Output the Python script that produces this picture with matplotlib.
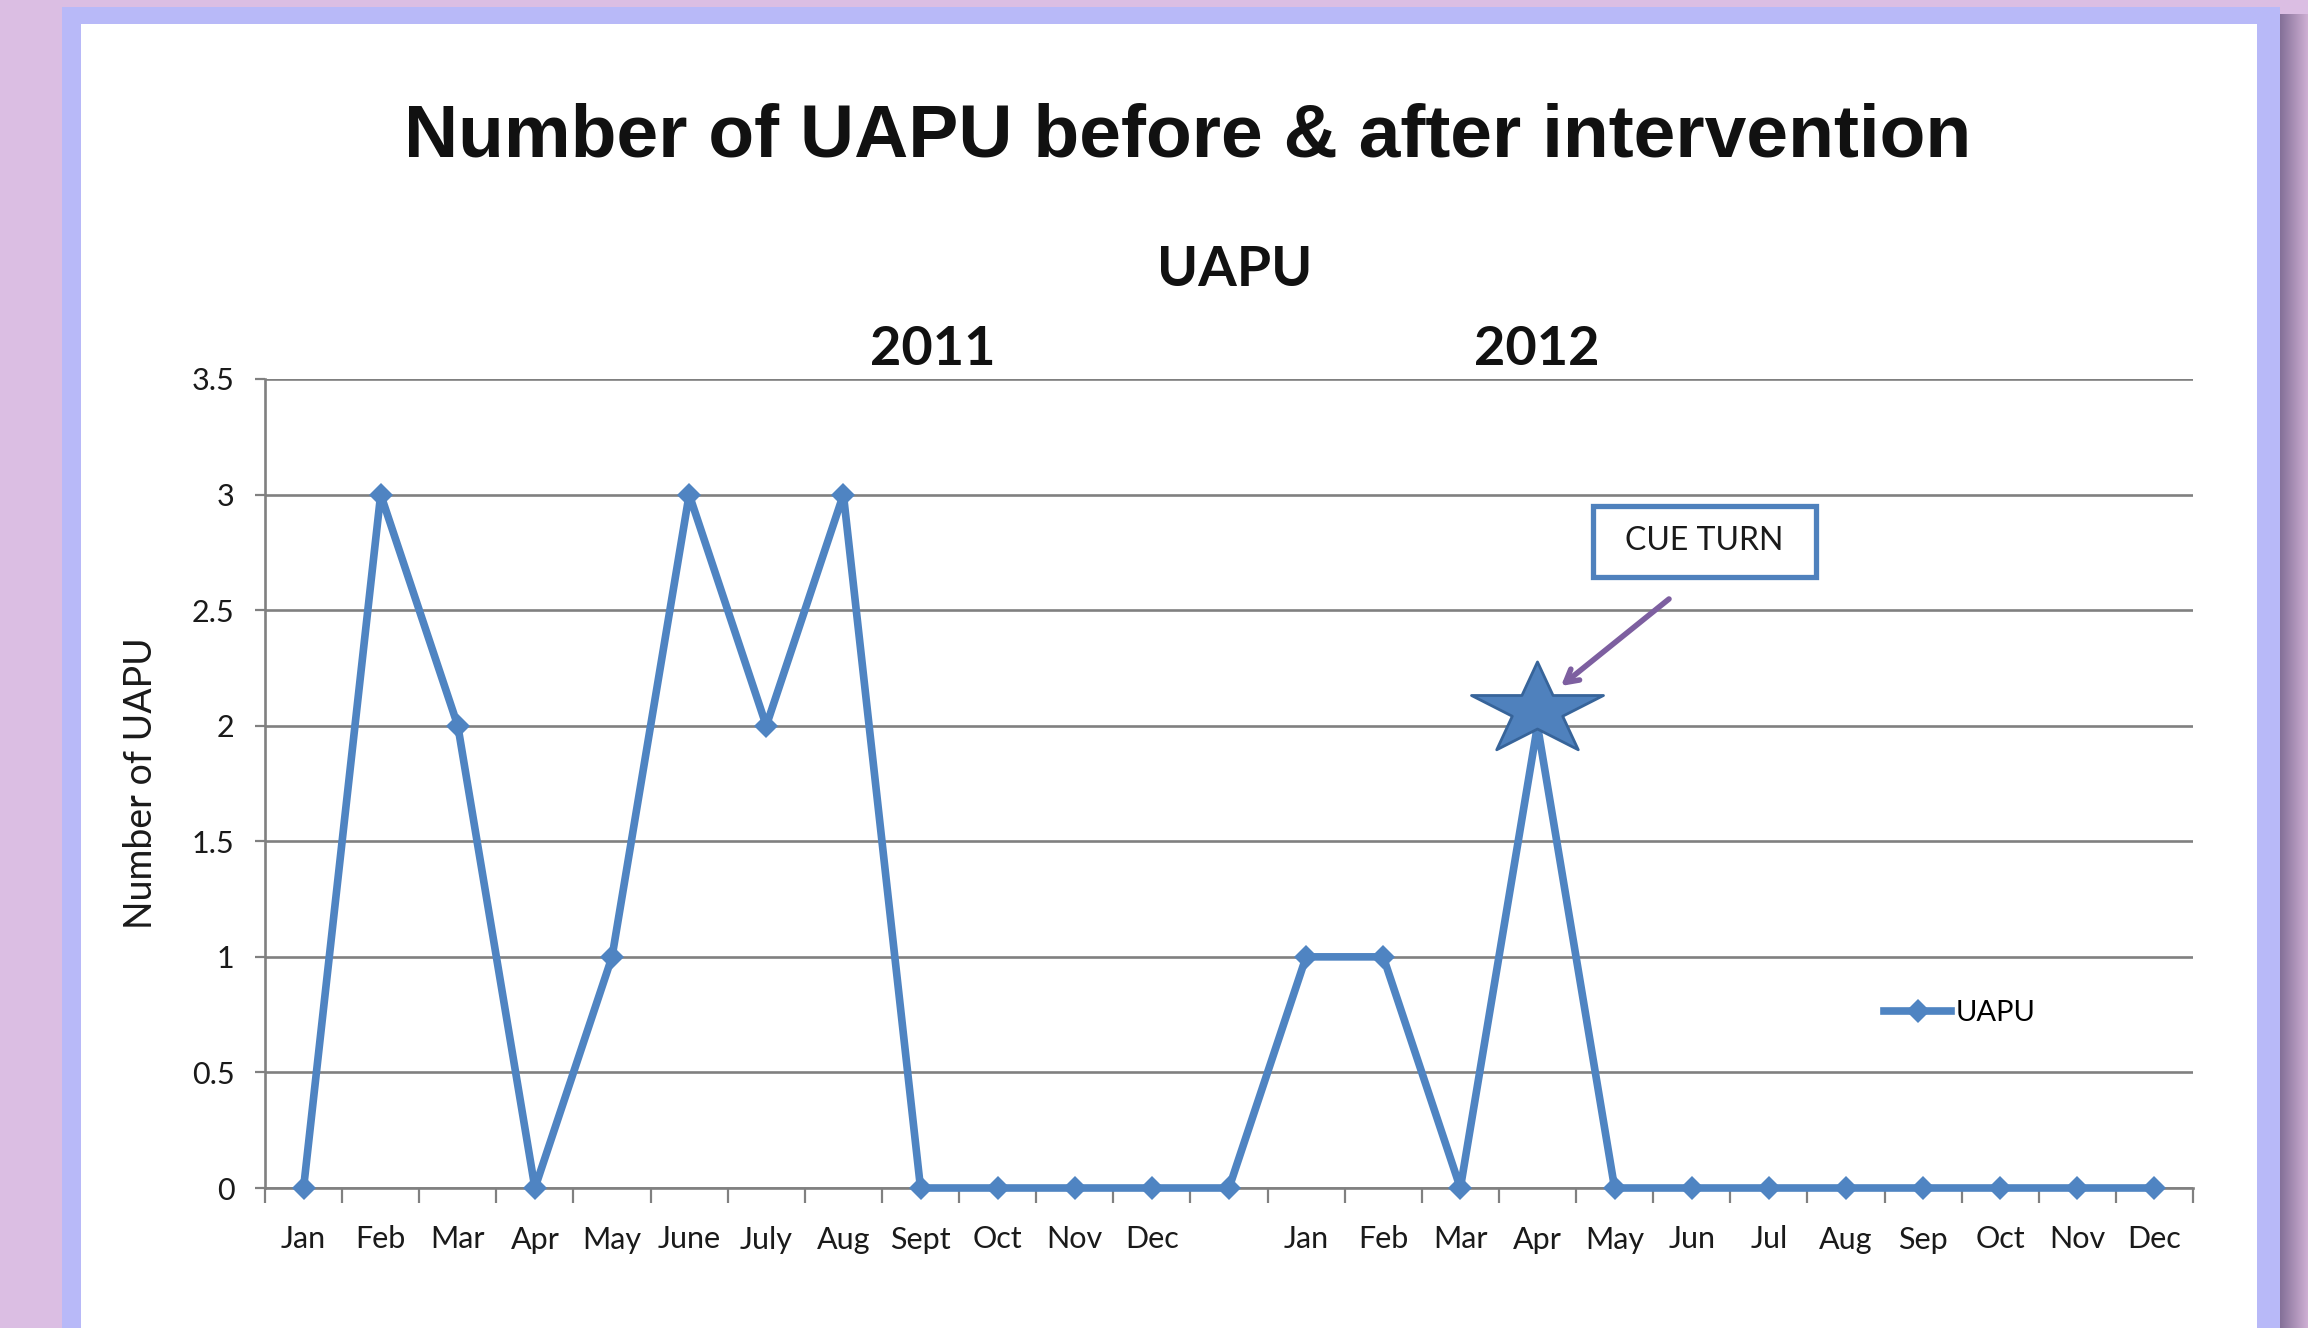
import numpy as np
import matplotlib
matplotlib.use("Agg")
import matplotlib.pyplot as plt
from matplotlib.patches import Rectangle
from matplotlib.path import Path
from matplotlib.lines import Line2D

# ---------------- data ----------------
months_2011 = ["Jan", "Feb", "Mar", "Apr", "May", "June", "July", "Aug", "Sept", "Oct", "Nov", "Dec"]
months_2012 = ["Jan", "Feb", "Mar", "Apr", "May", "Jun", "Jul", "Aug", "Sep", "Oct", "Nov", "Dec"]
categories = months_2011 + [""] + months_2012
uapu_2011 = [0, 3, 2, 0, 1, 3, 2, 3, 0, 0, 0, 0]
uapu_gap = [0]
uapu_2012 = [1, 1, 0, 2, 0, 0, 0, 0, 0, 0, 0, 0]
values = uapu_2011 + uapu_gap + uapu_2012
yticks = [0, 0.5, 1, 1.5, 2, 2.5, 3, 3.5]
ytick_labels = ["0", "0.5", "1", "1.5", "2", "2.5", "3", "3.5"]
series_name = "UAPU"
title = "Number of UAPU before & after intervention"
subtitle = "UAPU"
year_labels = ["2011", "2012"]
callout_text = "CUE TURN"
star_index = 16       # Apr 2012
star_value = 2.07

# ---------------- figure ----------------
W, H = 2308, 1328
DPI = 100
fig = plt.figure(figsize=(W / DPI, H / DPI), dpi=DPI)
fig.patch.set_facecolor("#DBBEE3")

def fx(px):
    return px / W

def fy(py):
    return 1 - py / H

# blue frame
fig.patches.append(Rectangle((fx(62), 0), fx(2280) - fx(62), fy(7), transform=fig.transFigure,
                             facecolor="#B8B9F8", edgecolor="none", zorder=-10))
# right shadow
c0 = np.array([0x84, 0x70, 0x98]) / 255
c1 = np.array([0xCD, 0xAE, 0xD2]) / 255
n = 28
for i in range(n):
    t = i / (n - 1)
    col = c0 * (1 - t) + c1 * t
    fig.patches.append(Rectangle((fx(2280 + i), 0), fx(1.05), fy(14), transform=fig.transFigure,
                                 facecolor=col, edgecolor="none", zorder=-10))
# white panel
fig.patches.append(Rectangle((fx(81), 0), fx(2257) - fx(81), fy(24), transform=fig.transFigure,
                             facecolor="white", edgecolor="none", zorder=-9))

ax_left, ax_right, ax_top, ax_bottom = 265, 2193, 379, 1188
ax = fig.add_axes([fx(ax_left), fy(ax_bottom), fx(ax_right - ax_left), (ax_bottom - ax_top) / H])
ax.set_facecolor("none")

x = np.arange(len(categories))
line_color = "#4F84C2"
grid_color = "#808080"

ax.set_xlim(-0.5, len(categories) - 0.5)
ax.set_ylim(0, 3.5)

# gridlines
ax.set_yticks(yticks)
ax.set_yticklabels(ytick_labels)
ax.yaxis.grid(True, color=grid_color, linewidth=1.9)
ax.set_axisbelow(True)

for s in ["top", "right"]:
    ax.spines[s].set_visible(False)
for s in ["left", "bottom"]:
    ax.spines[s].set_color(grid_color)
    ax.spines[s].set_linewidth(1.9)

ax.set_xticks(x)
ax.set_xticklabels(categories)
ax.set_xticks(np.arange(len(categories) + 1) - 0.5, minor=True)
ax.tick_params(axis="x", which="major", length=0, pad=27, labelsize=22, labelcolor="#1A1A1A")
ax.tick_params(axis="x", which="minor", length=11, width=1.6, color=grid_color, direction="out")
ax.tick_params(axis="y", which="major", length=7, width=1.6, color=grid_color, pad=15,
               labelsize=22, labelcolor="#1A1A1A")
for lab in ax.get_xticklabels() + ax.get_yticklabels():
    lab.set_family("Lato")

ax.set_ylabel("Number of UAPU", fontsize=27, family="Lato", color="#1A1A1A")
ax.yaxis.set_label_coords((159 - ax_left) / (ax_right - ax_left), 0.5)

# main series
ax.plot(x, values, color=line_color, linewidth=5.5, marker="D", markersize=12,
        markeredgewidth=0, markerfacecolor=line_color, zorder=3, clip_on=False)

# star marker
star = Path.unit_regular_star(5, 0.381966)
star_verts = star.vertices * np.array([1.0, 0.7])
star_path = Path(star_verts, star.codes)
ax.plot([star_index], [star_value], marker=star_path, markersize=95, markerfacecolor="#4F81BD",
        markeredgecolor="#37649A", markeredgewidth=2, linestyle="none", zorder=4)

# callout box
bx0, bx1 = (1593 - ax_left) / 77.12 - 0.5, (1816 - ax_left) / 77.12 - 0.5
by0, by1 = (ax_bottom - 577) / 231.14, (ax_bottom - 506) / 231.14
ax.add_patch(Rectangle((bx0, by0), bx1 - bx0, by1 - by0, facecolor="white", edgecolor="#4F81BD",
                       linewidth=3.8, zorder=5))
ax.text((bx0 + bx1) / 2, (by0 + by1) / 2, callout_text, ha="center", va="center", fontsize=23,
        family="Lato", color="#1A1A1A", zorder=6)

# arrow
ax.annotate("", xy=((1561 - ax_left) / 77.12 - 0.5, (ax_bottom - 686) / 231.14),
            xytext=((1669 - ax_left) / 77.12 - 0.5, (ax_bottom - 599) / 231.14),
            arrowprops=dict(arrowstyle="->,head_length=0.9,head_width=0.5", color="#7D5FA0",
                            linewidth=4, shrinkA=0, shrinkB=0), zorder=6)

# legend
handle = Line2D([], [], color=line_color, linewidth=5.5, marker="D", markersize=12, markeredgewidth=0)
ax.legend([handle], [series_name], loc="center left", bbox_to_anchor=(fx(1884), fy(1013)),
          bbox_transform=fig.transFigure, frameon=False, borderpad=0, borderaxespad=0,
          handlelength=2.3, handletextpad=0.15, prop={"family": "Lato", "size": 21})

# titles
fig.text(fx(1188), fy(137), title, ha="center", va="center", fontsize=54, fontweight="bold",
         family="Liberation Sans", color="#111111")
fig.text(fx(1235), fy(270), subtitle, ha="center", va="center", fontsize=40, fontweight="bold",
         family="Lato", color="#111111")
fig.text(fx(933), fy(349), year_labels[0], ha="center", va="center", fontsize=39, fontweight="bold",
         family="Lato", color="#111111")
fig.text(fx(1537), fy(349), year_labels[1], ha="center", va="center", fontsize=39, fontweight="bold",
         family="Lato", color="#111111")

fig.savefig("out.png", dpi=DPI, facecolor=fig.get_facecolor())
